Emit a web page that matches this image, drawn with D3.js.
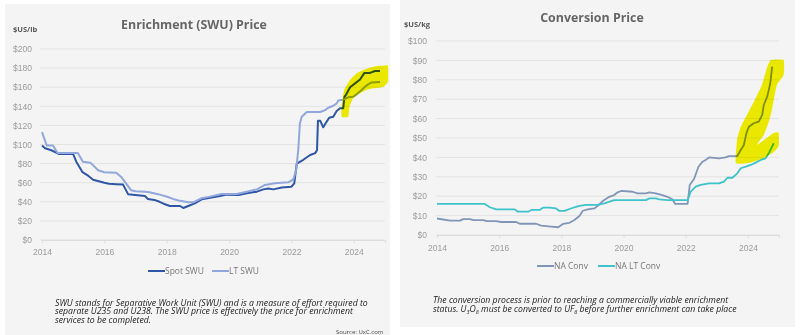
<!DOCTYPE html>
<html>
<head>
<meta charset="utf-8">
<script src="https://cdn.jsdelivr.net/npm/d3@7"></script>
<style>
body { margin: 0; background: #fff; }
svg { display: block; font-family: "Open Sans", sans-serif; }
.tick text { fill: #9b9b9b; font-size: 8.5px; }
.grid line { stroke: #e3e3e3; }
.title { fill: #666; font-weight: 700; font-size: 12.4px; }
.unit { fill: #5a5a5a; font-weight: 700; font-size: 7.5px; }
.legend text { fill: #777; font-size: 8.5px; }
.note { fill: #222; font-size: 8.7px; font-style: italic; }
.mark { fill: #f6f300; mix-blend-mode: multiply; }
</style>
</head>
<body>
<svg id="chart" width="800" height="335"></svg>
<script>
////////////////////////////////////////////////////////
// two uranium price panels: enrichment (SWU) and conversion

// ---- data ----
const years = [2014, 2016, 2018, 2020, 2022, 2024];
const swuTicks = [0, 20, 40, 60, 80, 100, 120, 140, 160, 180, 200];
const convTicks = [0, 10, 20, 30, 40, 50, 60, 70, 80, 90, 100];

const spotSwu = [
	[2014.0,99],[2014.1,96],[2014.3,94],[2014.55,90],[2015.0,90],[2015.1,82],[2015.3,71],[2015.45,68],
	[2015.64,63],[2016.0,60],[2016.15,59],[2016.38,58.5],[2016.6,58],[2016.76,48],[2017.3,46],[2017.4,43],
	[2017.6,42],[2017.77,40],[2017.9,38],[2018.1,35.6],[2018.43,35.6],[2018.53,33.5],[2018.69,35.6],
	[2018.9,38.4],[2019.12,42.6],[2019.39,44.3],[2019.71,46],[2019.92,47.5],[2020.3,47],[2020.57,48.9],
	[2020.89,50.6],[2021.1,53],[2021.26,54],[2021.42,53],[2021.69,55],[2022.0,55.8],[2022.09,59.4],
	[2022.17,80],[2022.38,84],[2022.6,89],[2022.76,91],[2022.82,94],[2022.85,125],[2022.92,125],
	[2023.02,118],[2023.13,124],[2023.21,128],[2023.34,129],[2023.45,135],[2023.56,138],[2023.66,138],
	[2023.7,150],[2023.75,152],[2023.88,160],[2024.04,164],[2024.2,168],[2024.34,175],[2024.52,175],
	[2024.68,177],[2024.84,177]
];

const ltSwu = [
	[2014.0,113],[2014.15,99],[2014.35,99],[2014.5,91],[2015.15,91],[2015.31,82],[2015.55,81],[2015.8,73],
	[2016.0,71],[2016.38,70.5],[2016.54,66],[2016.7,59],[2016.86,52],[2017.0,51],[2017.3,50.6],[2017.45,50],
	[2017.72,48],[2018.04,45],[2018.2,43],[2018.43,41],[2018.69,39.5],[2018.85,39.5],[2019.12,43.7],
	[2019.39,45.4],[2019.76,48.2],[2020.24,48.2],[2020.57,50.6],[2020.89,53],[2021.15,57.6],[2021.47,59.4],
	[2021.9,60.4],[2022.06,63.5],[2022.15,73],[2022.22,95],[2022.27,122],[2022.33,129],[2022.49,134],
	[2022.92,134],[2023.08,136],[2023.18,138.5],[2023.34,140.6],[2023.45,143],[2023.5,146],[2023.66,147],
	[2023.82,149.4],[2023.98,150],[2024.09,152.5],[2024.25,157],[2024.41,162],[2024.57,165],[2024.84,165.5]
];

const naConv = [
	[2014.0,8.5],[2014.42,7.4],[2014.74,7.4],[2014.84,8.2],[2015.06,8.2],[2015.17,7.7],[2015.49,7.7],
	[2015.6,7.2],[2015.9,7.2],[2016.07,6.7],[2016.55,6.7],[2016.66,5.8],[2017.19,5.8],[2017.35,4.8],
	[2017.67,4.3],[2017.9,4.0],[2018.05,5.7],[2018.26,6.3],[2018.42,7.7],[2018.58,9.8],[2018.69,12.5],
	[2018.85,13.2],[2019.06,13.7],[2019.17,15],[2019.33,17.5],[2019.54,19.7],[2019.7,20.6],[2019.81,22],
	[2019.92,22.7],[2020.29,22.3],[2020.45,21.5],[2020.72,21.5],[2020.83,22],[2021.04,21.5],[2021.25,20.6],
	[2021.41,19.7],[2021.57,18.4],[2021.66,16],[2022.06,16],[2022.13,25.8],[2022.27,29],[2022.41,35.2],
	[2022.54,37.8],[2022.64,38.7],[2022.75,40],[2023.07,39.5],[2023.28,40],[2023.39,40.7],[2023.66,40.7],
	[2023.77,43.8],[2023.87,46.4],[2023.95,52.4],[2024.03,55.8],[2024.19,57.6],[2024.35,58.4],[2024.46,61.9],
	[2024.51,67],[2024.62,71.3],[2024.67,74.7],[2024.72,78.2],[2024.78,86.8]
];

const naLtConv = [
	[2014.0,16],[2015.54,16],[2015.7,14.3],[2015.91,13.2],[2016.5,13.2],[2016.61,12],[2016.93,12],
	[2017.04,12.9],[2017.3,12.9],[2017.41,14.1],[2017.62,14.1],[2017.83,13.7],[2017.94,12.4],[2018.1,12.4],
	[2018.26,13.4],[2018.42,14.3],[2018.58,15],[2018.8,15.5],[2019.17,15.5],[2019.38,16.3],[2019.6,17.5],
	[2019.7,18],[2020.72,18],[2020.83,18.9],[2021.04,18.9],[2021.15,18.4],[2021.41,18],[2022.06,18],
	[2022.16,22.3],[2022.32,24.9],[2022.48,25.8],[2022.75,26.6],[2023.07,26.6],[2023.23,27.5],[2023.34,29.5],
	[2023.5,29.5],[2023.66,31.8],[2023.77,34.4],[2023.93,35.2],[2024.09,36.1],[2024.25,37.3],[2024.41,38.7],
	[2024.57,39.5],[2024.67,42.1],[2024.83,47.3]
];

// hand drawn yellow highlighter blobs (year, value)
const swuMark = [
	[2023.61,129],[2023.61,140],[2023.69,157],[2023.88,167.5],[2024.09,174.5],[2024.36,178.7],
	[2024.63,181.5],[2025.05,183],[2025.1,181.5],[2025.1,165.8],[2024.95,160.5],[2024.63,158.8],
	[2024.41,157],[2024.2,153.6],[2023.98,148.4],[2023.86,139.6],[2023.82,129]
];
const convMark = [
	[2023.61,37.1],[2023.65,49],[2023.77,55.8],[2023.97,61.9],[2024.22,69.6],[2024.45,77.3],[2024.61,86.1],
	[2024.74,90.2],[2025.15,90.2],[2025.15,82.5],[2024.93,77.3],[2024.77,64.4],[2024.67,58.2],
	[2024.51,51.5],[2024.29,46.4],[2024.83,52.6],[2024.99,52.6],[2024.99,45.9],[2024.83,42.8],
	[2024.51,39.7],[2024.03,37.1]
];

// ---- layout ----
const PANELS = [
	{
		box: [5, 4, 385, 331],
		title: "Enrichment (SWU) Price", titleX: 194, titleY: 29,
		unit: "$US/lb", unitX: 13, unitY: 32,
		x: [42, 385], y: [240, 49], gridX: [40, 385], yearY: 255,
		ydomain: [0, 200], yticks: swuTicks, labelX: 32,
		series: [
			{ name: "Spot SWU", data: spotSwu, color: "#2f56a6", width: 2 },
			{ name: "LT SWU", data: ltSwu, color: "#90a6dd", width: 2 }
		],
		legendY: 271, legendX: [148, 212],
		mark: swuMark,
		note: [
			[{ t: "SWU stands for Separative Work Unit (SWU) and is a measure of effort required to" }],
			[{ t: "separate U235 and U238. The SWU price is effectively the price for enrichment" }],
			[{ t: "services to be completed." }]
		],
		noteX: 55, noteY: 306, noteStep: 8.4,
		source: true
	},
	{
		box: [400, 0, 395, 327],
		title: "Conversion Price", titleX: 592, titleY: 22,
		unit: "$US/kg", unitX: 404, unitY: 27,
		x: [437, 779], y: [235, 41], gridX: [436, 779], yearY: 251,
		ydomain: [0, 100], yticks: convTicks, labelX: 427,
		series: [
			{ name: "NA Conv", data: naConv, color: "#8196b6", width: 1.8 },
			{ name: "NA LT Conv", data: naLtConv, color: "#3ec2cb", width: 1.8 }
		],
		legendY: 266, legendX: [537, 598],
		mark: convMark,
		note: [
			[{ t: "The conversion process is prior to reaching a commercially viable enrichment" }],
			[{ t: "status. U" }, { t: "3", sub: true }, { t: "O" }, { t: "8", sub: true },
			 { t: " must be converted to UF" }, { t: "6", sub: true }, { t: " before further enrichment can take place" }]
		],
		noteX: 433, noteY: 302.5, noteStep: 9,
		source: false
	}
];

const svg = d3.select("#chart");

function drawPanel(p){
	let g = svg.append("g");

	g.append("rect")
		.attr("x", p.box[0]).attr("y", p.box[1])
		.attr("width", p.box[2]).attr("height", p.box[3])
		.attr("fill", "#f4f4f4");

	let x = d3.scaleLinear().domain([2014, 2025]).range(p.x);
	let y = d3.scaleLinear().domain(p.ydomain).range(p.y);

	// gridlines
	g.append("g").attr("class", "grid")
		.selectAll("line").data(p.yticks).join("line")
		.attr("x1", p.gridX[0]).attr("x2", p.gridX[1])
		.attr("y1", d => y(d)).attr("y2", d => y(d));

	// y axis labels
	g.append("g")
		.attr("transform", `translate(${p.labelX},0)`)
		.call(d3.axisLeft(y).tickValues(p.yticks).tickSize(0).tickPadding(0).tickFormat(d => "$" + d))
		.call(a => a.select(".domain").remove());

	// x axis
	g.append("g")
		.attr("transform", `translate(0,${y(0)})`)
		.call(d3.axisBottom(x).tickValues(years).tickSize(3).tickPadding(p.yearY - y(0) - 9).tickFormat(d3.format("d")))
		.call(a => a.select(".domain").attr("stroke", "#dcdcdc"))
		.call(a => a.selectAll(".tick line").attr("stroke", "#dcdcdc"));

	// series
	let line = d3.line().x(d => x(d[0])).y(d => y(d[1]));
	p.series.forEach(s => {
		g.append("path")
			.attr("d", line(s.data))
			.attr("fill", "none")
			.attr("stroke", s.color)
			.attr("stroke-width", s.width)
			.attr("stroke-linejoin", "round");
	});

	// highlighter over the latest values
	g.append("path")
		.attr("class", "mark")
		.attr("d", d3.line().x(d => x(d[0])).y(d => y(d[1])).curve(d3.curveCardinalClosed.tension(0.6))(p.mark));

	// titles
	g.append("text").attr("class", "title")
		.attr("x", p.titleX).attr("y", p.titleY)
		.attr("text-anchor", "middle").text(p.title);
	g.append("text").attr("class", "unit")
		.attr("x", p.unitX).attr("y", p.unitY).text(p.unit);

	// legend
	let lg = g.append("g").attr("class", "legend");
	p.series.forEach((s, i) => {
		let lx = p.legendX[i];
		lg.append("line")
			.attr("x1", lx).attr("x2", lx + 17)
			.attr("y1", p.legendY).attr("y2", p.legendY)
			.attr("stroke", s.color).attr("stroke-width", 2);
		lg.append("text")
			.attr("x", lx + 17).attr("y", p.legendY + 3)
			.text(s.name);
	});

	// footnote
	p.note.forEach((parts, i) => {
		let t = g.append("text").attr("class", "note")
			.attr("x", p.noteX).attr("y", p.noteY + i * p.noteStep);
		let lifted = false;
		parts.forEach(part => {
			let ts = t.append("tspan").text(part.t);
			if(part.sub){
				ts.attr("font-size", "5.5px").attr("dy", lifted ? 0 : 2);
				lifted = true;
			}else{
				ts.attr("dy", lifted ? -2 : 0);
				lifted = false;
			}
		});
	});

	if(p.source){
		g.append("text")
			.attr("x", 336).attr("y", 334)
			.attr("font-size", "6px").attr("fill", "#444")
			.text("Source: UxC.com");
	}
}

PANELS.forEach(drawPanel);
</script>
</body>
</html>
